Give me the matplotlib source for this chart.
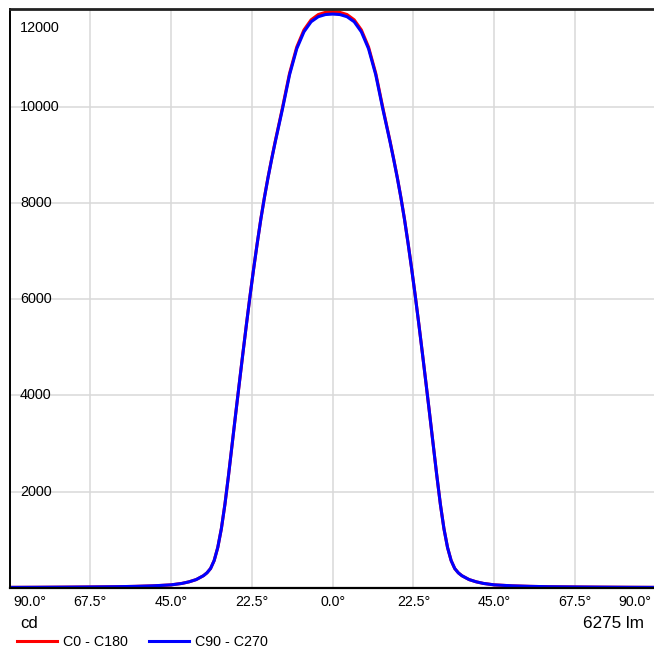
import numpy as np
import matplotlib
matplotlib.use("Agg")
import matplotlib.pyplot as plt

plt.rcParams['font.family'] = ['Liberation Sans', 'DejaVu Sans']
plt.rcParams['font.size'] = 10.3

# Half-profile of the luminous intensity (cd) from nadir (0°) out to 90°
angles = [0, 2, 4, 6, 8, 10, 12, 13, 14, 15, 16, 17, 18, 19, 20, 21, 22, 23, 24,
          25, 26, 27, 28, 29, 30, 31, 32, 33, 34, 35, 36, 38, 40, 42, 45,
          50, 55, 60, 67.5, 75, 82.5, 90]
c0_c180 = [11965, 11955, 11910, 11800, 11590, 11235, 10690, 10330, 9965, 9620,
           9275, 8910, 8530, 8115, 7665, 7165, 6635, 6075, 5485, 4875, 4250,
           3620, 2980, 2340, 1740, 1230, 840, 570, 405, 315, 255, 175, 128, 95,
           65, 45, 34, 27, 22, 18, 15, 13]
c90_c270 = [11920, 11910, 11865, 11760, 11550, 11200, 10660, 10300, 9940, 9600,
            9260, 8900, 8520, 8110, 7660, 7160, 6630, 6070, 5480, 4870, 4250,
            3620, 2980, 2340, 1740, 1230, 840, 570, 405, 315, 255, 175, 128, 95,
            65, 45, 34, 27, 22, 18, 15, 13]

x_ticks = [-90, -67.5, -45, -22.5, 0, 22.5, 45, 67.5, 90]
x_tick_labels = ["90.0°", "67.5°", "45.0°", "22.5°", "0.0°", "22.5°", "45.0°", "67.5°", "90.0°"]
y_ticks = [2000, 4000, 6000, 8000, 10000, 12000]
y_tick_labels = ["2000", "4000", "6000", "8000", "10000", "12000"]
unit_label = "cd"
flux_label = "6275 lm"
series_names = ["C0 - C180", "C90 - C270"]


def full_profile(half_angles, half_values):
    a = np.asarray(half_angles, dtype=float)
    v = np.asarray(half_values, dtype=float)
    return np.concatenate([-a[:0:-1], a]), np.concatenate([v[:0:-1], v])


W, H = 654, 653
fig = plt.figure(figsize=(W / 100, H / 100), dpi=100)
left, right, top, bottom = 9.5, 655.8, 9.0, 588.0
ax = fig.add_axes([left / W, 1 - bottom / H, (right - left) / W, (bottom - top) / H])

ax.set_xlim(-90, 90)
ax.set_ylim(0, 12025)

grid_color = "#d9d9d9"
for xv in x_ticks[1:-1]:
    ax.axvline(xv, color=grid_color, lw=1.1, zorder=1)
for yv in y_ticks[:-1]:
    ax.axhline(yv, color=grid_color, lw=1.1, zorder=1)

xa, ya = full_profile(angles, c0_c180)
xb, yb = full_profile(angles, c90_c270)
l1, = ax.plot(xa, ya, color="#ff0000", lw=2.2, zorder=3, label=series_names[0],
              solid_joinstyle="round")
l2, = ax.plot(xb, yb, color="#0000ff", lw=2.2, zorder=3.1, label=series_names[1],
              solid_joinstyle="round")

ax.set_xticks([])
ax.set_yticks([])
ax.spines["right"].set_visible(False)
ax.spines["top"].set_linewidth(2.0)
ax.spines["top"].set_color("#222222")
ax.spines["left"].set_linewidth(1.4)
ax.spines["left"].set_color("black")
ax.spines["bottom"].set_linewidth(1.6)
ax.spines["bottom"].set_color("black")
for sp in ax.spines.values():
    sp.set_zorder(4)

# angle labels under the axis
for i, (xv, lab) in enumerate(zip(x_ticks, x_tick_labels)):
    if i == 0:
        ha, dx = "left", 4
    elif i == len(x_ticks) - 1:
        ha, dx = "right", -4
    else:
        ha, dx = "center", 0
    ax.annotate(lab, xy=(xv, 0), xycoords=("data", "axes fraction"),
                xytext=(dx, -14), textcoords="offset pixels",
                ha=ha, va="center", fontsize=10.2, color="black")

# intensity labels inside the plot
for yv, lab in zip(y_ticks, y_tick_labels):
    dy = -18 if yv == y_ticks[-1] else 0
    ax.annotate(lab, xy=(0, yv), xycoords=("axes fraction", "data"),
                xytext=(10.5, dy), textcoords="offset pixels",
                ha="left", va="center", fontsize=10.4, color="black")

fig.text(20 / W, 1 - 624 / H, unit_label, ha="left", va="center", fontsize=12)
fig.text(644 / W, 1 - 623 / H, flux_label, ha="right", va="center", fontsize=12.3)

fig.legend(handles=[l1, l2], loc="center left", bbox_to_anchor=(17 / W, 1 - 642 / H),
           ncol=2, frameon=False, borderpad=0, borderaxespad=0,
           handlelength=2.8, handletextpad=0.42, columnspacing=1.5, fontsize=10.3)

fig.savefig("out.png", dpi=100)
